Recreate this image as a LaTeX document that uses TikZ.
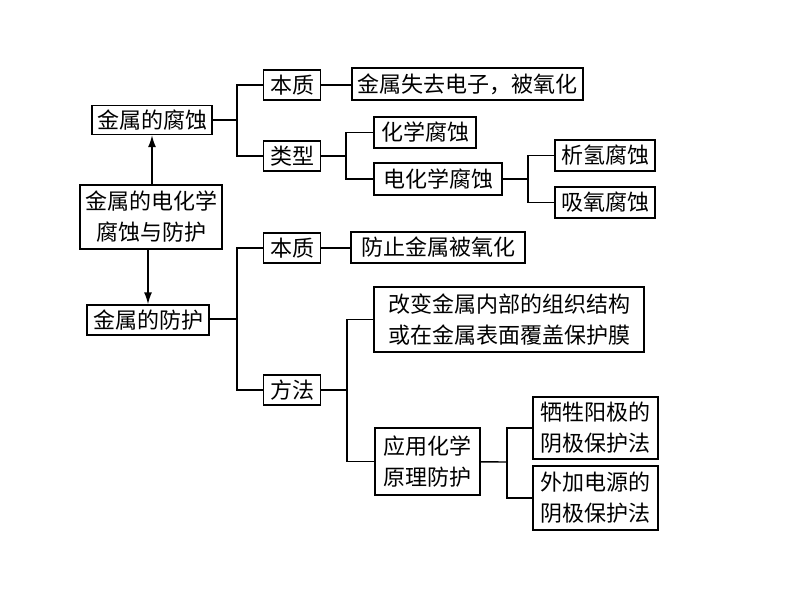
\documentclass[tikz,border=0pt]{standalone}
\usepackage{fontspec}
\setmainfont{Noto Sans CJK SC}
\usetikzlibrary{arrows.meta}

\begin{document}
\begin{tikzpicture}[x=1pt, y=-1pt, line width=1.4pt,
	box/.style={draw, inner sep=0pt, align=center, font=\fontsize{22}{31}\selectfont}]
	\useasboundingbox (0,0) rectangle (794,596);

	\node[box, minimum width=142, minimum height=64](C0) at (151,217){金属的电化学\\腐蚀与防护};
	\node[box, minimum width=120, minimum height=29](C1) at (152,120){金属的腐蚀};
	\node[box, minimum width=122, minimum height=30](C2) at (148,320){金属的防护};

	\draw[-{Latex[length=12pt,width=8pt]}] (C0.north -| C1) -- (C1.south);
	\draw[-{Latex[length=12pt,width=8pt]}] (C0.south -| C2) -- (C2.north);

	\node[box, minimum width=57, minimum height=30](B1) at (292,85){本质};
	\node[box, minimum width=57, minimum height=30](B2) at (292,156){类型};
	\node[box, minimum width=57, minimum height=30](B3) at (292,248){本质};
	\node[box, minimum width=57, minimum height=30](B4) at (292,390){方法};

	\coordinate (J1) at (237,120);
	\draw (C1) -- (J1);
	\draw (J1) |- (B1);
	\draw (J1) |- (B2);

	\coordinate (J4) at (237,319);
	\draw (C2.east |- J4) -- (J4);
	\draw (J4) |- (B3);
	\draw (J4) |- (B4);

	\node[box, minimum width=231, minimum height=32](D1) at (467.5,84){金属失去电子，被氧化};
	\draw (B1) -- (D1.west |- B1);

	\node[box, minimum width=102, minimum height=31](D2) at (425,132.5){化学腐蚀};
	\node[box, minimum width=128, minimum height=32](D3) at (438,179){电化学腐蚀};

	\coordinate (J2) at (346,156);
	\draw (B2) -- (J2);
	\draw (J2) |- (D2);
	\draw (J2) |- (D3);

	\node[box, minimum width=100, minimum height=31](E1) at (605,155.5){析氢腐蚀};
	\node[box, minimum width=100, minimum height=31](E2) at (605,202.5){吸氧腐蚀};

	\coordinate (J3) at (528,179);
	\draw (D3) -- (J3);
	\draw (J3) |- (E1);
	\draw (J3) |- (E2);

	\node[box, minimum width=174, minimum height=31](F1) at (438,247.5){防止金属被氧化};
	\draw (B3) -- (F1.west |- B3);

	\node[box, minimum width=270, minimum height=65](F2) at (509,319.5){改变金属内部的组织结构\\或在金属表面覆盖保护膜};
	\node[box, minimum width=105, minimum height=67](F3) at (427.5,461.5){应用化学\\原理防护};

	\coordinate (J5) at (347,390);
	\draw (B4) -- (J5);
	\draw (J5) |- (F2);
	\draw (J5) |- (F3);

	\node[box, minimum width=125, minimum height=62](G1) at (595.5,428){牺牲阳极的\\阴极保护法};
	\node[box, minimum width=125, minimum height=64](G2) at (595.5,498){外加电源的\\阴极保护法};

	\coordinate (J6) at (507,462);
	\draw (F3) -- (J6);
	\draw (J6) |- (G1);
	\draw (J6) |- (G2);
\end{tikzpicture}
\end{document}
